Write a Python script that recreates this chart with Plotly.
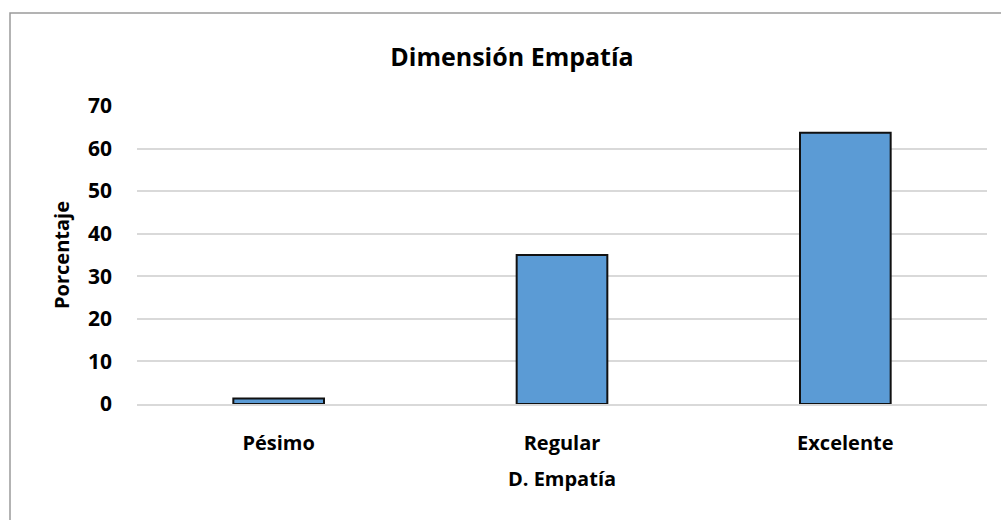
import plotly.graph_objects as go

categories = ["Pésimo", "Regular", "Excelente"]
values = [1.3, 35.0, 63.7]
y_ticks = [0, 10, 20, 30, 40, 50, 60, 70]

FONT = "Open Sans"
L, R, T, B = 137, 14, 106, 116
W, H = 1001, 520
pw = W - L - R
ph = H - T - B

def bold(size):
    return dict(family=FONT, size=size, color="#000000", weight="bold")

fig = go.Figure(go.Bar(
    x=categories, y=values, width=0.32,
    marker=dict(color="#5b9bd5", line=dict(color="#111111", width=2)),
))

def px_x(p):
    return (p - L) / pw

def px_y(p):
    return (H - B - p) / ph

fig.update_layout(
    width=W, height=H,
    margin=dict(l=L, r=R, t=T, b=B),
    paper_bgcolor="white", plot_bgcolor="white",
    showlegend=False,
    title=dict(text="Dimensión Empatía", x=(512 - L) / pw, xanchor="center", xref="paper",
               y=1 - 57 / H, yanchor="middle", font=bold(25)),
    font=dict(family=FONT, color="#000000"),
    xaxis=dict(
        tickfont=bold(20),
        title=dict(text="D. Empatía", font=bold(20), standoff=17),
        showline=True, linecolor="#d9d9d9", linewidth=2,
        ticks="", showgrid=False,
        ticklabelstandoff=20,
    ),
    yaxis=dict(
        range=[0, 70], tickvals=y_ticks,
        tickfont=bold(21),
        title=dict(text="Porcentaje", font=bold(20), standoff=12),
        showgrid=True, gridcolor="#d9d9d9", gridwidth=2,
        zeroline=False, ticks="", showline=False,
        ticklabelstandoff=24,
    ),
    shapes=[dict(type="rect", xref="paper", yref="paper",
                 x0=px_x(10), x1=px_x(1010), y0=px_y(530), y1=px_y(13),
                 line=dict(color="#9a9a9a", width=1.5), fillcolor="rgba(0,0,0,0)", layer="below")],
)

fig.write_html("out.html")
